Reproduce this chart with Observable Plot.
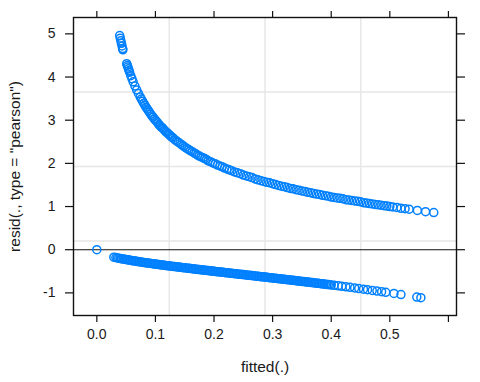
<!DOCTYPE html>
<html>
<head>
<meta charset="utf-8">
<script src="https://cdn.jsdelivr.net/npm/d3@7"></script>
<script src="https://cdn.jsdelivr.net/npm/@observablehq/plot@0.6"></script>
<style>
  html, body { margin: 0; padding: 0; background: #fff; }
  #chart { width: 480px; height: 382px; }
</style>
</head>
<body>
<div id="chart"></div>
<script>
// Observations with outcome = 1 (upper branch)
const fittedHi = [0.039,0.040,0.041,0.042,0.043,0.044,0.0445,
  0.051,0.052,0.053,0.054,0.055,0.056,0.058,0.060,0.062,0.065,0.068,0.071,0.074,0.076,0.078,
  0.080,0.082,0.084,0.086,0.088,0.090,0.092,0.094,0.096,0.098,0.100,0.102,0.104,0.106,0.108,
  0.110,0.112,0.114,0.116,0.118,0.120,0.122,0.124,0.126,0.128,0.130,0.133,0.136,0.139,0.142,
  0.145,0.148,0.151,0.154,0.157,0.160,0.163,0.166,0.169,0.172,0.175,0.178,0.181,0.184,0.187,
  0.190,0.194,0.198,0.202,0.206,0.210,0.214,0.218,0.222,0.226,0.230,0.235,0.240,0.245,0.250,
  0.255,0.260,0.265,0.270,0.275,0.280,0.285,0.290,0.295,0.300,0.305,0.310,0.315,0.320,0.325,
  0.330,0.335,0.340,0.345,0.350,0.355,0.360,0.365,0.370,0.375,0.380,0.385,0.390,0.395,0.400,
  0.405,0.410,0.415,0.420,0.425,0.430,0.435,0.440,0.445,0.450,0.455,0.460,0.465,0.470,0.475,
  0.480,0.485,0.490,0.495,0.500,0.505,0.512,0.519,0.526,0.533,0.547,0.561,0.575];
const residHi = [4.96,4.90,4.84,4.78,4.72,4.66,4.63,
  4.31,4.27,4.23,4.19,4.15,4.11,4.03,3.96,3.89,3.79,3.70,3.62,3.54,3.49,3.44,
  3.39,3.35,3.30,3.26,3.22,3.18,3.14,3.10,3.07,3.03,3.00,2.97,2.94,2.90,2.87,
  2.84,2.82,2.79,2.76,2.73,2.71,2.68,2.66,2.63,2.61,2.59,2.55,2.52,2.49,2.46,
  2.43,2.40,2.37,2.34,2.32,2.29,2.27,2.24,2.22,2.19,2.17,2.15,2.13,2.11,2.09,
  2.06,2.04,2.01,1.99,1.96,1.94,1.92,1.89,1.87,1.85,1.83,1.80,1.78,1.76,1.73,
  1.71,1.69,1.67,1.64,1.62,1.60,1.58,1.56,1.55,1.53,1.51,1.49,1.47,1.46,1.44,
  1.42,1.41,1.39,1.38,1.36,1.35,1.33,1.32,1.30,1.29,1.28,1.26,1.25,1.24,1.22,
  1.21,1.20,1.19,1.18,1.16,1.15,1.14,1.13,1.12,1.11,1.09,1.08,1.07,1.06,1.05,
  1.04,1.03,1.02,1.01,1.00,0.99,0.98,0.96,0.95,0.94,0.91,0.88,0.86];

// Observations with outcome = 0 (lower branch), plus the point at fitted 0
const fittedLo = [0.000,
  0.029,0.035,0.040,0.045,0.050,0.055,0.060,0.065,0.070,0.075,0.080,0.085,0.090,0.095,
  0.100,0.105,0.110,0.115,0.120,0.125,0.130,0.135,0.140,0.145,0.150,0.155,0.160,0.165,
  0.170,0.175,0.180,0.185,0.190,0.195,0.200,0.205,0.210,0.215,0.220,0.225,0.230,0.235,
  0.240,0.245,0.250,0.255,0.260,0.265,0.270,0.275,0.280,0.285,0.290,0.295,0.300,0.305,
  0.310,0.315,0.320,0.325,0.330,0.335,0.340,0.345,0.350,0.355,0.360,0.365,0.370,0.375,
  0.380,0.385,0.390,0.395,0.400,0.405,0.412,0.418,0.425,0.432,0.440,0.447,0.455,0.462,
  0.470,0.478,0.486,0.493,0.507,0.519,0.546,0.553,
  0.0325,0.0375,0.0425,0.0475,0.0525,0.0575,0.0625,0.0675,0.0725,0.0775,0.0825,0.0875,
  0.0925,0.0975,0.1025,0.1075,0.1125,0.1175,0.1225,0.1275,0.1325,0.1375,0.1425,0.1475,
  0.1525,0.1575,0.1625,0.1675,0.1725,0.1775,0.1825,0.1875,0.1925,0.1975,0.2025,0.2075,
  0.2125,0.2175,0.2225,0.2275,0.2325,0.2375,0.2425,0.2475,0.2525,0.2575,0.2625,0.2675,
  0.2725,0.2775,0.2825,0.2875,0.2925,0.2975,0.3025,0.3075,0.3125,0.3175,0.3225,0.3275,
  0.3325,0.3375,0.3425,0.3475,0.3525,0.3575,0.3625,0.3675,0.3725,0.3775,0.3825,0.3875,
  0.3925,0.3975];
const residLo = [0.000,
  -0.173,-0.190,-0.204,-0.217,-0.229,-0.241,-0.253,-0.264,-0.274,-0.285,-0.295,-0.305,-0.314,-0.324,
  -0.333,-0.343,-0.352,-0.360,-0.369,-0.378,-0.387,-0.395,-0.403,-0.412,-0.420,-0.428,-0.436,-0.445,
  -0.453,-0.461,-0.469,-0.476,-0.484,-0.492,-0.500,-0.508,-0.516,-0.523,-0.531,-0.539,-0.547,-0.554,
  -0.562,-0.570,-0.577,-0.585,-0.593,-0.600,-0.608,-0.616,-0.624,-0.631,-0.639,-0.647,-0.655,-0.662,
  -0.670,-0.678,-0.686,-0.694,-0.702,-0.710,-0.718,-0.726,-0.734,-0.742,-0.750,-0.758,-0.766,-0.775,
  -0.783,-0.791,-0.800,-0.808,-0.816,-0.825,-0.837,-0.847,-0.860,-0.872,-0.886,-0.899,-0.914,-0.927,
  -0.942,-0.957,-0.972,-0.986,-1.014,-1.039,-1.097,-1.112,
  -0.183,-0.197,-0.211,-0.223,-0.235,-0.247,-0.258,-0.269,-0.280,-0.290,-0.300,-0.310,
  -0.319,-0.329,-0.338,-0.347,-0.356,-0.365,-0.374,-0.382,-0.391,-0.399,-0.408,-0.416,
  -0.424,-0.432,-0.440,-0.449,-0.457,-0.465,-0.472,-0.480,-0.488,-0.496,-0.504,-0.512,
  -0.519,-0.527,-0.535,-0.543,-0.550,-0.558,-0.566,-0.573,-0.581,-0.589,-0.597,-0.604,
  -0.612,-0.620,-0.627,-0.635,-0.643,-0.651,-0.659,-0.666,-0.674,-0.682,-0.690,-0.698,
  -0.706,-0.714,-0.722,-0.730,-0.738,-0.746,-0.754,-0.762,-0.770,-0.779,-0.787,-0.795,
  -0.804,-0.812];

const xTicks = [0, 0.1, 0.2, 0.3, 0.4, 0.5, 0.6];
const xTickLabels = ["0.0", "0.1", "0.2", "0.3", "0.4", "0.5", ""];
const yTicks = [-1, 0, 1, 2, 3, 4, 5];
const yTickLabels = ["-1", "0", "1", "2", "3", "4", "5"];
const xLabel = "fitted(.)";
const yLabel = "resid(., type = \"pearson\")";

const points = [
  ...fittedHi.map((f, i) => ({fitted: f, resid: residHi[i]})),
  ...fittedLo.map((f, i) => ({fitted: f, resid: residLo[i]}))
];

const xDomain = [-0.0398, 0.6138];
const yDomain = [-1.524, 5.379];
const quarters = (d) => [1, 2, 3].map(k => d[0] + k * (d[1] - d[0]) / 4);

const ink = "#1a1a1a";
const chart = Plot.plot({
  width: 480,
  height: 382,
  marginLeft: 73,
  marginRight: 24,
  marginTop: 17,
  marginBottom: 67,
  style: {fontFamily: "'Liberation Sans', Arial, sans-serif", fontSize: "14px", color: ink, background: "#fff"},
  x: {domain: xDomain, axis: null},
  y: {domain: yDomain, axis: null},
  marks: [
    Plot.ruleX(quarters(xDomain), {stroke: "#e6e6e6", strokeWidth: 1.4}),
    Plot.ruleY(quarters(yDomain), {stroke: "#e6e6e6", strokeWidth: 1.4}),
    Plot.ruleY([0], {stroke: "#111", strokeWidth: 1.1}),
    Plot.dot(points, {x: "fitted", y: "resid", r: 4, stroke: "#0080ff", strokeWidth: 1.5, fill: "none"}),
    Plot.frame({stroke: "#111", strokeWidth: 1.4}),
    Plot.axisX(xTicks, {anchor: "bottom", tickSize: 7, tickPadding: 7, tickFormat: (d, i) => xTickLabels[i], label: null, stroke: "#111", strokeWidth: 1.2, fill: ink, fontSize: 14}),
    Plot.axisX(xTicks, {anchor: "top", tickSize: 7, tickFormat: () => "", label: null, stroke: "#111", strokeWidth: 1.2}),
    Plot.axisY(yTicks, {anchor: "left", tickSize: 8, tickPadding: 10, tickFormat: (d, i) => yTickLabels[i], label: null, stroke: "#111", strokeWidth: 1.2, fill: ink, fontSize: 14}),
    Plot.axisY(yTicks, {anchor: "right", tickSize: 8, tickFormat: () => "", label: null, stroke: "#111", strokeWidth: 1.2}),
    Plot.text([xLabel], {frameAnchor: "bottom", dy: 52, lineAnchor: "middle", textAnchor: "middle", fontSize: 15.5, fill: ink}),
    Plot.text([yLabel], {frameAnchor: "left", dx: -58, rotate: -90, lineAnchor: "middle", textAnchor: "middle", fontSize: 15.5, fill: ink})
  ]
});
document.getElementById("chart").appendChild(chart);
</script>
</body>
</html>
